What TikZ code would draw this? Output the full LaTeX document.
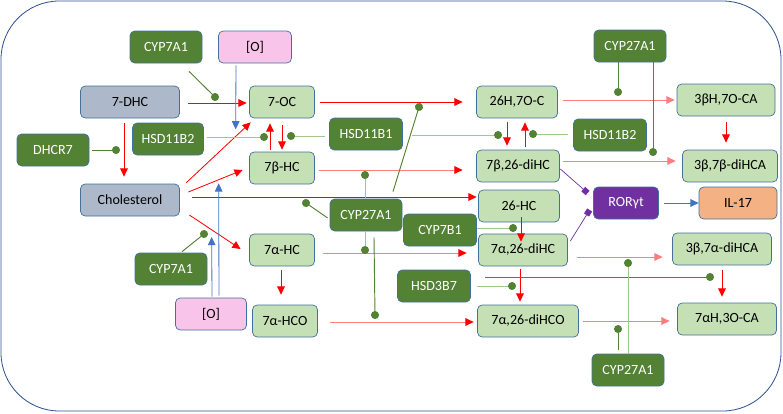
\documentclass[tikz,border=0pt]{standalone}
\usepackage{fontspec}
\setmainfont{Carlito}
\usetikzlibrary{arrows.meta}

\definecolor{enzgreen}{RGB}{84,130,53}
\definecolor{litgreen}{RGB}{160,200,140}
\definecolor{metfill}{RGB}{197,224,180}
\definecolor{sterfill}{RGB}{173,185,202}
\definecolor{oxyfill}{RGB}{248,196,234}
\definecolor{rorfill}{RGB}{112,48,160}
\definecolor{ilfill}{RGB}{244,177,131}
\definecolor{edgeblue}{RGB}{65,113,156}
\definecolor{arrblue}{RGB}{68,114,196}
\definecolor{framec}{RGB}{47,82,143}
\definecolor{salmon}{RGB}{255,124,128}

\begin{document}
\begin{tikzpicture}[x=0.03cm,y=-0.03cm,font=\fontsize{12}{14}\selectfont,
	box/.style={rectangle,rounded corners=4pt,draw=edgeblue,line width=0.6pt,minimum height=0.96cm,inner sep=1pt},
	met/.style={box,fill=metfill,minimum width=#1*0.03cm},
	ster/.style={box,fill=sterfill,minimum width=#1*0.03cm},
	enz/.style={box,fill=enzgreen,text=white,minimum width=#1*0.03cm},
	oxy/.style={box,fill=oxyfill,minimum width=#1*0.03cm},
	conv/.style={color=red,line width=0.7pt,-{Triangle[length=7pt,width=6.5pt]}},
	convs/.style={color=salmon,line width=0.8pt,-{Triangle[length=7pt,width=6.5pt,color=red]}},
	convl/.style={color=salmon,line width=0.8pt,-{Triangle[length=7pt,width=6.5pt]}},
	ox/.style={color=arrblue,line width=0.7pt,-{Triangle[length=7pt,width=6.5pt]}},
	bind/.style={color=rorfill,line width=0.6pt,-{Square[length=5pt]}},
	cat/.style={color=enzgreen,line width=0.8pt,-{Circle[length=6.8pt,color=enzgreen]},shorten >=-3.4pt},
	catl/.style={cat,color=litgreen}]

\useasboundingbox (0,0) rectangle (783,413);
\draw[framec,line width=0.7pt,rounded corners=1.75cm] (1,1) rectangle (781,411);

% sterols and metabolites
\node[ster=99]   (dhc)    at (130,102) {7-DHC};
\node[ster=99]   (chol)   at (130,200) {Cholesterol};
\node[met=65]    (oc)     at (282,102) {7-OC};
\node[met=65]    (bhc)    at (282,168) {7β-HC};
\node[met=65]    (ahc)    at (282,250) {7α-HC};
\node[met=65]    (ahco)   at (285,321) {7α-HCO};
\node[met=81]    (hoc)    at (517,102) {26H,7O-C};
\node[met=83]    (bdihc)  at (518,166) {7β,26-diHC};
\node[met=81]    (hc)     at (519,206) {26-HC};
\node[met=89]    (adihc)  at (523,250) {7α,26-diHC};
\node[met=101]   (adihco) at (528,321) {7α,26-diHCO};
\node[met=98]    (bca)    at (726,100) {3βH,7O-CA};
\node[met=95]    (bbca)   at (730,166) {3β,7β-diHCA};
\node[met=99]    (baca)   at (722,249) {3β,7α-diHCA};
\node[met=99]    (haca)   at (727,319) {7αH,3O-CA};
\node[box,fill=rorfill,text=white,minimum width=1.95cm] (ror) at (626,203) {RORγt};
\node[box,fill=ilfill,minimum width=2.34cm]             (il)  at (738,203) {IL-17};

% enzymes and oxidants
\node[enz=72]    (cypA)   at (166,47)  {CYP7A1};
\node[enz=72]    (cypAb)  at (171,269) {CYP7A1};
\node[enz=72]    (dhcr)   at (53,150)  {DHCR7};
\node[enz=71]    (hsdBa)  at (168,139) {HSD11B2};
\node[enz=73]    (hsdA)   at (366,134) {HSD11B1};
\node[enz=72]    (cypC)   at (366,215) {CYP27A1};
\node[enz=72]    (cypCt)  at (630,46)  {CYP27A1};
\node[enz=72]    (cypCb)  at (628,370) {CYP27A1};
\node[enz=73]    (hsdBb)  at (610,135) {HSD11B2};
\node[enz=73]    (cypB)   at (440,230) {CYP7B1};
\node[enz=73]    (hsd3)   at (434,286) {HSD3B7};
\node[oxy=73]    (oA)     at (255,47)  {[O]};
\node[oxy=71]    (oB)     at (211,314) {[O]};

% points where the enzymes act
\coordinate (kA)   at (215,97);
\coordinate (kAb)  at (204,234);
\coordinate (kD)   at (116,150);
\coordinate (kBa)  at (264,137);
\coordinate (kA1)  at (291,136);
\coordinate (kA2)  at (498,135);
\coordinate (kBb)  at (533,134);
\coordinate (kCt1) at (618,92);
\coordinate (kCt2) at (653,152);
\coordinate (kC1)  at (306,203);
\coordinate (kC2)  at (365,175);
\coordinate (kC3)  at (365,250);
\coordinate (kC4)  at (419,107);
\coordinate (kC5)  at (375,315);
\coordinate (kB7)  at (513,228);
\coordinate (kH1)  at (512,286);
\coordinate (kH2)  at (710,277);
\coordinate (kCb1) at (628,263);
\coordinate (kCb2) at (618,329);

\path[conv] ([shift={(8.5,1)}]dhc.east) edge ([shift={(-2.5,1)}]oc.west)
	([shift={(-6,5)}]dhc.south) edge ([shift={(-6,-7)}]chol.north)
	([shift={(6.5,-1)}]chol.north east) edge ([shift={(1.5,4)}]oc.south west)
	([shift={(8.5,-8)}]chol.east) edge ([shift={(-6.5,2)}]bhc.west)
	([shift={(12.5,-3)}]chol.east) edge ([shift={(-1.5,-9)}]hc.west)
	([shift={(9.5,15)}]chol.east) edge ([shift={(-8.5,-1)}]ahc.west)
	([shift={(-12,-2)}]bhc.north) edge ([shift={(-12,5)}]oc.south)
	([shift={(0,7)}]oc.south) edge ([shift={(0,-2)}]bhc.north)
	([shift={(5.5,0)}]oc.east) edge ([shift={(-13.5,0)}]hoc.west)
	([shift={(-1,4)}]ahc.south) edge ([shift={(-4,-10)}]ahco.north)
	([shift={(-10,4)}]hoc.south) edge ([shift={(-11,-4)}]bdihc.north)
	([shift={(7,-3)}]bdihc.north) edge ([shift={(8,4)}]hoc.south)
	([shift={(0,6)}]bca.south) edge ([shift={(-4,-7)}]bbca.north)
	([shift={(2,-5)}]hc.south) edge ([shift={(-2,8)}]adihc.north)
	([shift={(-3,3)}]adihc.south) edge ([shift={(-8,-3)}]adihco.north)
	([shift={(0,5)}]baca.south) edge ([shift={(-5,-6)}]haca.north);

\path[convs] ([shift={(4.5,2)}]bhc.east) edge ([shift={(-13.5,4)}]bdihc.west)
	([shift={(8.5,3)}]ahc.east) edge ([shift={(-11.5,3)}]adihc.west)
	([shift={(12.5,1)}]ahco.east) edge ([shift={(-3.5,1)}]adihco.west);

\path[convl] ([shift={(5.5,-2)}]hoc.east) edge ([shift={(-2,0)}]bca.west)
	([shift={(3.5,-5)}]bdihc.east) edge ([shift={(-6.5,-5)}]bbca.west)
	([shift={(9.5,7)}]adihc.east) edge ([shift={(-9.5,8)}]baca.west)
	([shift={(4.5,0)}]adihco.east) edge ([shift={(-7.5,2)}]haca.west);

\path[ox] ([shift={(-19,2)}]oA.south) edge ([shift={(-13.5,11)}]oc.south west)
	([shift={(8,-2)}]oB.north) edge ([shift={(-30.5,-1)}]bhc.south west)
	([shift={(1,-1)}]oB.north) edge ([shift={(-37.5,-13)}]ahc.west)
	([shift={(5.5,0)}]ror.east) edge (il.west);

\path[bind] ([shift={(0.5,3)}]bdihc.east) edge ([shift={(-5.5,-10)}]ror.west)
	([shift={(2.5,-9)}]adihc.east) edge ([shift={(-3.5,7)}]ror.west);

\path[cat] ([shift={(23,8)}]cypA.south) edge (kA)
	([shift={(11,-1)}]cypAb.north) edge (kAb)
	([shift={(3,0)}]dhcr.east) edge (kD)
	([shift={(-12,0)}]cypCt.south) edge (kCt1)
	([shift={(23,0)}]cypCt.south) edge (kCt2)
	([shift={(-2,3)}]cypC.west) edge (kC1)
	([shift={(27,-7)}]cypC.north) edge (kC4)
	([shift={(8,6)}]cypC.south) edge (kC5)
	([shift={(14.5,-9)}]hsd3.east) edge (kH2)
	([shift={(-10,-4)}]cypCb.north) edge (kCb2);

\path[catl] ([shift={(3.5,-2)}]hsdBa.east) edge (kBa)
	([shift={(-4.5,2)}]hsdA.west) edge (kA1)
	([shift={(9.5,1)}]hsdA.east) edge (kA2)
	([shift={(-5.5,-1)}]hsdBb.west) edge (kBb)
	([shift={(-1,0)}]cypC.north) edge (kC2)
	([shift={(-1,0)}]cypC.south) edge (kC3)
	([shift={(0.5,-2)}]cypB.east) edge (kB7)
	([shift={(6.5,0)}]hsd3.east) edge (kH1)
	(cypCb.north) edge (kCb1);
\end{tikzpicture}
\end{document}
